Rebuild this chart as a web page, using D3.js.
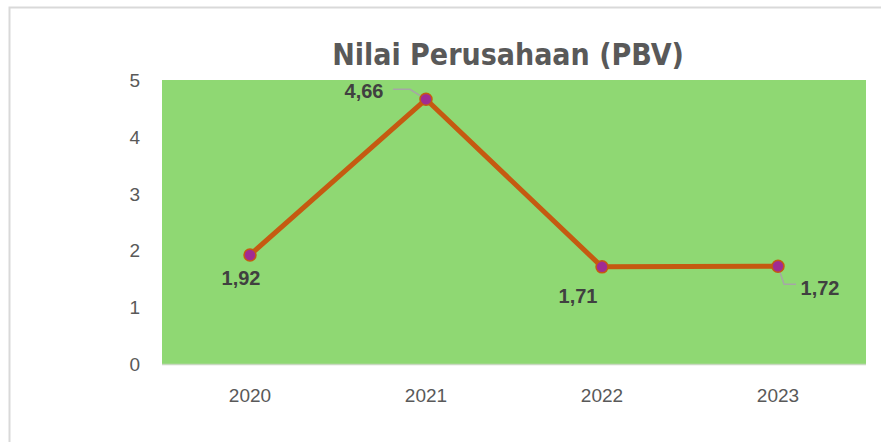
<!DOCTYPE html>
<html>
<head>
<meta charset="utf-8">
<script src="https://cdn.jsdelivr.net/npm/d3@7.9.0/dist/d3.min.js"></script>
<style>
  body { margin: 0; background: #fff; }
  svg { display: block; font-family: "Liberation Sans", Arial, sans-serif; }
</style>
</head>
<body>
<svg id="chart" width="881" height="442"></svg>
<script>
// Chart data
const years = ['2020', '2021', '2022', '2023'];
const pbv = [1.92, 4.66, 1.71, 1.72];
const labels = ['1,92', '4,66', '1,71', '1,72'];
const yTicks = [0, 1, 2, 3, 4, 5];

const svg = d3.select('#chart');
const margin = { left: 162, right: 15, top: 80, bottom: 78 };
const width = 881, height = 442;

// Outer chart border
svg.append('rect')
  .attr('x', 9.5).attr('y', 7.5)
  .attr('width', 900).attr('height', 460)
  .attr('fill', '#fff')
  .attr('stroke', '#d9d9d9')
  .attr('stroke-width', 2);

const x = d3.scaleBand().domain(years).range([margin.left, width - margin.right]);
const y = d3.scaleLinear().domain([0, 5]).range([height - margin.bottom, margin.top]);

// Plot area
svg.append('rect')
  .attr('x', margin.left).attr('y', y(5))
  .attr('width', x.range()[1] - margin.left)
  .attr('height', y(0) - y(5))
  .attr('fill', '#8fd873');

// Bottom axis line
svg.append('line')
  .attr('x1', margin.left).attr('x2', x.range()[1])
  .attr('y1', y(0) + 0.5).attr('y2', y(0) + 0.5)
  .attr('stroke', '#c8d8c0').attr('stroke-width', 1.5);

// Title
svg.append('text')
  .attr('x', 508).attr('y', 65)
  .attr('text-anchor', 'middle')
  .attr('font-family', '"DejaVu Sans Condensed", "Liberation Sans", sans-serif')
  .attr('font-weight', 'bold')
  .attr('font-size', 30)
  .attr('fill', '#595959')
  .text('Nilai Perusahaan (PBV)');

// Y ticks
svg.selectAll('.ytick').data(yTicks).join('text')
  .attr('x', 140).attr('y', d => y(d) + 7)
  .attr('text-anchor', 'end')
  .attr('font-size', 19)
  .attr('fill', '#595959')
  .text(d => d);

// X ticks
svg.selectAll('.xtick').data(years).join('text')
  .attr('x', d => x(d) + x.bandwidth() / 2)
  .attr('y', 402)
  .attr('text-anchor', 'middle')
  .attr('font-size', 19)
  .attr('fill', '#595959')
  .text(d => d);

const cx = i => x(years[i]) + x.bandwidth() / 2;

// Line
const line = d3.line().x((d, i) => cx(i)).y(d => y(d));
svg.append('path')
  .datum(pbv)
  .attr('d', line)
  .attr('fill', 'none')
  .attr('stroke', '#c55a11')
  .attr('stroke-width', 5)
  .attr('stroke-linejoin', 'round');

// Leader lines for 4,66 and 1,72
const leaders = [
  { i: 1, pts: [[-33, -10], [-16, -10], [0, 0]] },
  { i: 3, pts: [[0, 0], [6, 18], [18, 18]] }
];
leaders.forEach(l => {
  svg.append('path')
    .attr('d', d3.line()(l.pts.map(p => [cx(l.i) + p[0], y(pbv[l.i]) + p[1]])))
    .attr('fill', 'none')
    .attr('stroke', '#a6a6a6')
    .attr('stroke-width', 1.5);
});

// Markers
svg.selectAll('.dot').data(pbv).join('circle')
  .attr('cx', (d, i) => cx(i))
  .attr('cy', d => y(d))
  .attr('r', 6)
  .attr('fill', '#a02b93')
  .attr('stroke', '#c55a11')
  .attr('stroke-width', 1.5);

// Data labels
const offsets = [[-9, 30], [-62, -1], [-24, 36], [42, 29]];
svg.selectAll('.lbl').data(pbv).join('text')
  .attr('x', (d, i) => cx(i) + offsets[i][0])
  .attr('y', (d, i) => y(d) + offsets[i][1])
  .attr('text-anchor', 'middle')
  .attr('font-size', 20)
  .attr('font-weight', 'bold')
  .attr('fill', '#404040')
  .text((d, i) => labels[i]);
</script>
</body>
</html>
